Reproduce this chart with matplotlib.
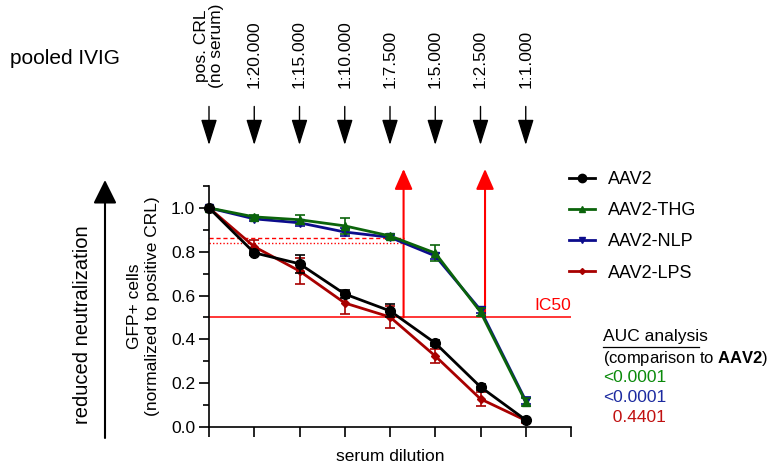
import numpy as np
import matplotlib.pyplot as plt
from matplotlib.lines import Line2D
from matplotlib.patches import FancyArrowPatch

plt.rcParams['font.family'] = ['Liberation Sans', 'DejaVu Sans']
plt.rcParams['mathtext.fontset'] = 'custom'
plt.rcParams['mathtext.rm'] = 'Liberation Sans'
plt.rcParams['mathtext.bf'] = 'Liberation Sans:bold'

# dilution steps (x positions 0..7)
dilutions = ['pos. CRL\n(no serum)', '1:20.000', '1:15.000', '1:10.000',
             '1:7.500', '1:5.000', '1:2.500', '1:1.000']
x = np.arange(len(dilutions))

aav2 = [1.0, 0.795, 0.745, 0.607, 0.530, 0.383, 0.183, 0.032]
aav2_err = [0.0, 0.010, 0.040, 0.020, 0.030, 0.015, 0.015, 0.010]
thg = [1.0, 0.959, 0.946, 0.918, 0.872, 0.794, 0.525, 0.114]
thg_err = [0.0, 0.010, 0.020, 0.035, 0.010, 0.035, 0.020, 0.020]
nlp = [1.0, 0.950, 0.932, 0.890, 0.866, 0.781, 0.534, 0.120]
nlp_err = [0.0, 0.010, 0.015, 0.020, 0.010, 0.015, 0.015, 0.015]
lps = [1.0, 0.823, 0.712, 0.566, 0.502, 0.324, 0.128, 0.030]
lps_err = [0.0, 0.030, 0.060, 0.050, 0.050, 0.030, 0.030, 0.010]

ic50 = 0.5
ic50_x = [4.3, 6.1]
ref_dashed = 0.863
ref_dotted = 0.840

auc_p = ['<0.0001', '<0.0001', '  0.4401']
auc_colors = ['#0a8a0a', '#1c2aa0', '#c01010']

fig = plt.figure(figsize=(7.7, 4.67), dpi=100)
ax = fig.add_axes([209/770, 40/467, 362/770, 241/467])

series = [
    ('AAV2-LPS', lps, lps_err, '#a80000', 'D', 4, 3),
    ('AAV2-NLP', nlp, nlp_err, '#0c0c8c', 'v', 6, 4),
    ('AAV2-THG', thg, thg_err, '#0b640b', '^', 6, 5),
    ('AAV2', aav2, aav2_err, 'black', 'o', 7, 6),
]
handles = {}
for name, y, e, c, m, ms, z in series:
    ax.errorbar(x, y, yerr=e, color=c, marker=m, ms=ms, lw=2,
                capsize=3.5, elinewidth=1.2, capthick=1.2, zorder=z,
                clip_on=False)
    handles[name] = Line2D([], [], color=c, marker=m, ms=ms - 1, lw=2)

# IC50 and reference lines
ax.axhline(ic50, color='red', lw=1.1, zorder=2)
ax.text(8, ic50 + 0.02, 'IC50', color='red', fontsize=12.5, ha='right', va='bottom')
ax.plot([0, ic50_x[0]], [ref_dashed, ref_dashed], color='red', lw=1, ls=(0, (3, 2)), zorder=2)
ax.plot([0, ic50_x[0]], [ref_dotted, ref_dotted], color='red', lw=1, ls=(0, (1, 1.5)), zorder=2)
for xv in ic50_x:
    ax.annotate('', xy=(xv, 1.178), xytext=(xv, ic50), annotation_clip=False,
                arrowprops=dict(arrowstyle='-|>,head_length=1.25,head_width=0.55',
                                color='red', lw=1.5, shrinkA=0, shrinkB=0,
                                mutation_scale=10))

ax.set_xlim(0, 8)
ax.set_ylim(0, 1.1)
ax.set_xticks(np.arange(9))
ax.set_xticklabels([])
ax.set_yticks([0, 0.2, 0.4, 0.6, 0.8, 1.0])
ax.set_yticklabels(['0.0', '0.2', '0.4', '0.6', '0.8', '1.0'])
ax.set_yticks(np.arange(0.1, 1.15, 0.2), minor=True)
ax.tick_params(axis='both', which='major', length=7, width=1.2, labelsize=12.5, pad=3)
ax.tick_params(axis='y', which='minor', length=4, width=1.2)
for s in ['top', 'right']:
    ax.spines[s].set_visible(False)
for s in ['left', 'bottom']:
    ax.spines[s].set_linewidth(1.2)

ax.set_xlabel('serum dilution', fontsize=12.5, labelpad=6)
ax.set_ylabel('GFP+ cells\n(normalized to positive CRL)', fontsize=12.5, labelpad=8)

# dilution labels and arrows on top
for xi, lab in zip(x, dilutions):
    ax.text(xi, (427 - 88) / 241, lab, rotation=90, ha='center', va='bottom',
            fontsize=12.5, transform=ax.get_xaxis_transform(), linespacing=1.0)
    ax.annotate('', xy=(xi, 1.170), xytext=(xi, 1.330),
                xycoords=ax.get_xaxis_transform(), annotation_clip=False,
                arrowprops=dict(arrowstyle='-|>,head_length=1.6,head_width=0.5',
                                color='black', lw=1, shrinkA=0, shrinkB=0,
                                mutation_scale=10))

fig.text(10/770, 1 - 58/467, 'pooled IVIG', fontsize=15, ha='left', va='center')

# reduced neutralization arrow
fig.text(82/770, 1 - 325/467, 'reduced neutralization', rotation=90,
         fontsize=14.5, ha='center', va='center')
fig.patches.append(FancyArrowPatch(
    (105/770, 1 - 438/467), (105/770, 1 - 180/467), transform=fig.transFigure,
    arrowstyle='-|>,head_length=1.45,head_width=0.72', mutation_scale=10,
    color='black', lw=1.5, shrinkA=0, shrinkB=0))

# legend
order = ['AAV2', 'AAV2-THG', 'AAV2-NLP', 'AAV2-LPS']
fig.legend([handles[k] for k in order], order, loc='upper left',
           bbox_to_anchor=(553/770, 1 - 155/467), frameon=False,
           fontsize=13, handlelength=1.4, labelspacing=0.78,
           handletextpad=0.75)

# AUC analysis text
fig.text(603/770, 1 - 337/467, 'AUC analysis', fontsize=12.5, va='center', ha='left')
fig.lines.append(Line2D([603/770, 699/770], [1 - 347/467, 1 - 347/467],
                        transform=fig.transFigure, color='black', lw=0.9))
fig.text(603/770, 1 - 358/467, '(comparison to $\\mathbf{AAV2}$)', fontsize=12,
         va='center', ha='left')
for i, (p, c) in enumerate(zip(auc_p, auc_colors)):
    fig.text(603/770, 1 - (378 + 20 * i)/467, p, color=c, fontsize=12.5,
             va='center', ha='left')

fig.savefig('out.png', dpi=100)
